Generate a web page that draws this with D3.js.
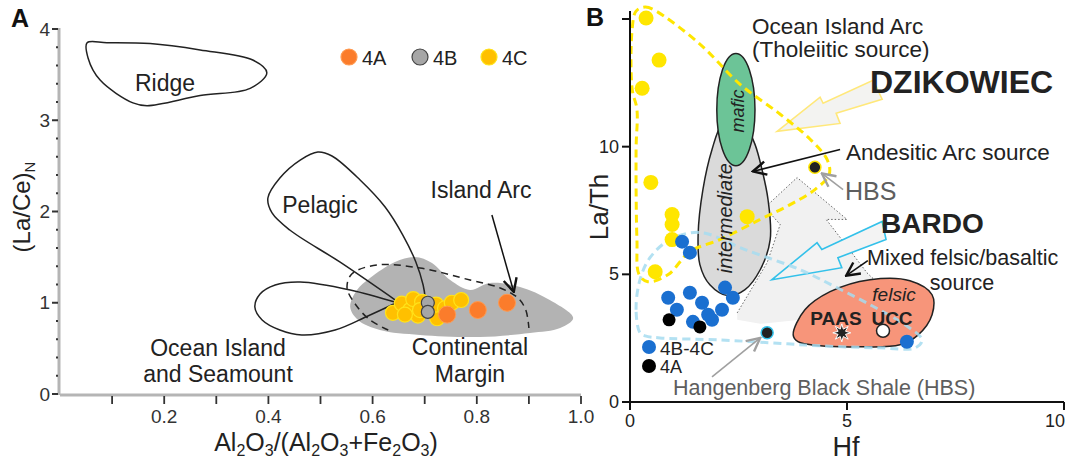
<!DOCTYPE html>
<html>
<head>
<meta charset="utf-8">
<script src="https://cdn.jsdelivr.net/npm/d3@7"></script>
<style>
body { margin: 0; background: #fff; }
svg text { font-family: "Liberation Sans", Arial, sans-serif; fill: #222; }
</style>
</head>
<body>
<svg id="chart" width="1066" height="461"></svg>
<script>
// ---- panel A data : Al2O3/(Al2O3+Fe2O3) vs (La/Ce)N
var a4A = [[0.743, 0.87], [0.802, 0.92], [0.858, 1.0]];
var a4B = [[0.706, 1.0], [0.706, 0.9]];
var a4C = [[0.639, 0.89], [0.656, 0.99], [0.672, 0.92], [0.678, 1.04], [0.687, 0.86],
           [0.695, 1.01], [0.691, 0.92], [0.724, 0.83], [0.722, 0.98], [0.739, 0.94],
           [0.752, 1.0], [0.770, 1.03], [0.662, 0.87]];

// field outlines (data units)
var ridge = [[0.052,3.85],[0.09,3.85],[0.173,3.84],[0.269,3.77],[0.37,3.66],[0.397,3.52],[0.365,3.35],
             [0.269,3.27],[0.167,3.16],[0.14,3.19],[0.077,3.44],[0.054,3.68]];
var pelagic = [[0.649,1.008],[0.537,1.447],[0.441,1.797],[0.407,1.984],[0.399,2.148],[0.422,2.367],
               [0.461,2.564],[0.495,2.652],[0.522,2.608],[0.576,2.345],[0.624,2.049],[0.658,1.742],
               [0.683,1.447],[0.697,1.195],[0.701,1.052]];
var oceanIsland = [[0.649,0.997],[0.557,1.14],[0.461,1.227],[0.413,1.195],[0.384,1.096],[0.374,0.953],
                   [0.388,0.811],[0.422,0.701],[0.464,0.647],[0.528,0.701],[0.591,0.855],[0.649,1.008]];
var islandArc = [[0.63,0.701],[0.595,0.811],[0.568,0.975],[0.551,1.162],[0.56,1.315],[0.608,1.414],
                 [0.691,1.381],[0.787,1.249],[0.845,1.162],[0.879,1.052],[0.894,0.921],[0.9,0.723]];
var contMargin = [[0.557,0.953],[0.57,1.14],[0.595,1.271],[0.643,1.447],[0.681,1.501],[0.714,1.436],
                  [0.749,1.249],[0.787,1.14],[0.825,1.216],[0.883,1.173],[0.94,1.03],[0.985,0.833],
                  [0.96,0.723],[0.902,0.668],[0.806,0.625],[0.691,0.647],[0.614,0.701],[0.572,0.811]];
var aXTicks = [0.1,0.2,0.3,0.4,0.5,0.6,0.7,0.8,0.9,1.0];
var aXLabels = [0.2,0.4,0.6,0.8,1.0];
var aYTicks = [0,1,2,3,4];

// ---- panel B data : Hf vs La/Th
var b4BC = [[1.20,6.28],[1.38,5.85],[0.88,4.08],[1.08,3.61],[1.38,4.28],[1.66,3.89],[1.45,3.14],
            [1.80,3.42],[1.89,3.22],[2.12,3.61],[2.19,4.48],[2.37,4.08],[6.38,2.36]];
var b4A = [[0.90,3.22],[1.61,2.94]];
var bYellow = [[0.37,15.04],[0.67,13.39],[0.28,12.29],[0.48,8.6],[0.97,7.34],[0.97,6.95],[0.97,6.36],
               [0.58,5.1],[2.70,7.26]];
var bHBS = [[4.26,9.19],[3.16,2.71]];
var paas = [4.88, 2.71];
var ucc = [5.83, 2.79];

var yellowField = [[0.14,15.31],[0.35,15.47],[0.6,15.31],[1.61,14.02],[2.53,12.45],[3.46,11.27],[4.15,10.29],
                   [4.54,9.5],[4.59,8.91],[4.26,8.32],[3.69,7.73],[3.0,7.15],[2.07,6.36],[1.38,5.89],
                   [0.88,4.99],[0.41,4.71],[0.21,4.99],[0.16,6.36],[0.14,9.89],[0.16,11.46],[0.05,12.25],[0.05,14.61]];
var blueField = [[0.23,2.71],[0.14,3.61],[0.23,4.79],[0.46,5.65],[0.92,6.36],[1.61,6.64],[2.65,5.97],
                 [3.92,5.18],[4.72,4.52],[5.53,3.81],[6.34,3.02],[6.73,2.43],[6.57,2.12],[5.76,2.12],
                 [4.38,2.2],[3.23,2.32],[2.07,2.43],[0.69,2.51],[0.35,2.59]];
var mixedEdge = [[2.47,3.49],[3.16,5.46],[3.46,6.95],[3.11,7.62],[3.85,8.79],[5.0,7.15],[4.52,7.15],
                 [4.88,6.36],[5.46,5.06],[5.92,4.32]];
var mixedLower = [[5.76,3.93],[4.84,3.53],[3.92,3.22],[3.0,3.06],[2.47,3.22]];
var intermediate = [[2.12,10.88],[1.89,9.89],[1.68,8.32],[1.57,6.56],[1.61,5.38],[1.84,4.59],[2.26,4.16],
                    [2.65,4.4],[3.0,5.18],[3.23,6.36],[3.18,7.93],[3.04,9.11],[2.88,10.09],[2.65,10.88],[2.42,11.15]];
var mafic = {cx: 2.44, cy: 11.45, rx: 0.44, ry: 2.2};
var felsic = [[3.76,2.63],[4.03,3.61],[4.61,4.32],[5.53,4.79],[6.45,4.75],[6.96,4.2],[6.96,3.42],
              [6.64,2.63],[6.22,2.24],[5.3,2.16],[4.38,2.2],[3.87,2.36]];
var dzArrow = [[3.39,10.6],[4.38,11.94],[4.45,11.7],[5.6,12.6],[5.81,11.86],[4.75,11.31],[4.84,10.91]];
var bdArrow = [[3.27,4.79],[4.31,6.24],[4.42,5.97],[5.81,7.07],[5.9,6.36],[4.79,5.65],[4.88,5.26]];
var bXTicks = [0,5,10];
var bYTicks = [0,5,10,15];

var svg = d3.select("#chart");

// markers
var defs = svg.append("defs");
function vHead(id, color) {
  defs.append("marker").attr("id", id)
    .attr("markerUnits", "userSpaceOnUse")
    .attr("markerWidth", 16).attr("markerHeight", 16)
    .attr("viewBox", "0 0 12 12").attr("refX", 11).attr("refY", 6)
    .attr("orient", "auto")
    .append("path").attr("d", "M1,1 L11,6 L1,11")
    .attr("fill", "none").attr("stroke", color).attr("stroke-width", 1.8);
}
vHead("headK", "#111");
vHead("headG", "#a0a0a0");

function label(g, x, y, t, size, opts) {
  opts = opts || {};
  return g.append("text").attr("x", x).attr("y", y)
    .attr("text-anchor", opts.anchor || "middle")
    .attr("dominant-baseline", "central")
    .attr("font-size", size)
    .attr("font-weight", opts.bold ? "bold" : null)
    .attr("font-style", opts.italic ? "italic" : null)
    .style("fill", opts.color || "#222")
    .text(t);
}

// ================= PANEL A =================
var xA = d3.scaleLinear().domain([0, 1]).range([60, 581]);
var yA = d3.scaleLinear().domain([0, 4]).range([394, 29]);
var gA = svg.append("g");

var lineA = d3.line().x(d => xA(d[0])).y(d => yA(d[1]));

gA.append("path").datum(contMargin)
  .attr("d", lineA.curve(d3.curveCatmullRomClosed))
  .attr("fill", "#b3b3b3").attr("stroke", "none");

gA.append("path").datum(ridge)
  .attr("d", lineA.curve(d3.curveCatmullRomClosed))
  .attr("fill", "none").attr("stroke", "#222").attr("stroke-width", 1.5);
gA.append("path").datum(pelagic)
  .attr("d", lineA.curve(d3.curveCatmullRom))
  .attr("fill", "none").attr("stroke", "#222").attr("stroke-width", 1.5);
gA.append("path").datum(oceanIsland)
  .attr("d", lineA.curve(d3.curveCatmullRom))
  .attr("fill", "none").attr("stroke", "#222").attr("stroke-width", 1.5);
gA.append("path").datum(islandArc)
  .attr("d", lineA.curve(d3.curveCatmullRom))
  .attr("fill", "none").attr("stroke", "#222").attr("stroke-width", 1.5)
  .attr("stroke-dasharray", "7,5");

// Island Arc arrow
gA.append("line")
  .attr("x1", xA(0.829)).attr("y1", yA(1.962))
  .attr("x2", xA(0.871)).attr("y2", yA(1.118))
  .attr("stroke", "#111").attr("stroke-width", 1.5)
  .attr("marker-end", "url(#headK)");

// points
gA.selectAll(".c4C").data(a4C).enter().append("circle")
  .attr("cx", d => xA(d[0])).attr("cy", d => yA(d[1])).attr("r", 7.5)
  .attr("fill", "#ffc000").attr("stroke", "#ffe31a").attr("stroke-width", 1.2);
gA.selectAll(".c4A").data(a4A).enter().append("circle")
  .attr("cx", d => xA(d[0])).attr("cy", d => yA(d[1])).attr("r", 8.5)
  .attr("fill", "#fb7c2b").attr("stroke", "#ff9a50").attr("stroke-width", 1);
gA.selectAll(".c4B").data(a4B).enter().append("circle")
  .attr("cx", d => xA(d[0])).attr("cy", d => yA(d[1])).attr("r", 6.5)
  .attr("fill", "#a6a6a6").attr("stroke", "#444").attr("stroke-width", 1.2);

// labels
label(gA, 165, 83, "Ridge", 23);
label(gA, 320, 205, "Pelagic", 23);
label(gA, 481, 190, "Island Arc", 23);
label(gA, 218, 348, "Ocean Island", 23);
label(gA, 218, 374, "and Seamount", 23);
label(gA, 470, 347, "Continental", 23);
label(gA, 470, 374, "Margin", 23);

// legend A
var legA = [["4A", "#fb7c2b", "#ff9a50", 349], ["4B", "#a6a6a6", "#444", 420], ["4C", "#ffc000", "#ffe31a", 489]];
legA.forEach(function (l) {
  gA.append("circle").attr("cx", l[3]).attr("cy", 57).attr("r", 8)
    .attr("fill", l[1]).attr("stroke", l[2]).attr("stroke-width", 1.2);
  label(gA, l[3] + 13, 58, l[0], 20, {anchor: "start"});
});

// axes A
gA.append("line").attr("x1", xA(0)).attr("x2", xA(1)).attr("y1", 395).attr("y2", 395)
  .attr("stroke", "#b5b5b5").attr("stroke-width", 3);
gA.append("line").attr("x1", 59).attr("x2", 59).attr("y1", yA(0) + 1).attr("y2", yA(4) - 1)
  .attr("stroke", "#b5b5b5").attr("stroke-width", 3);
gA.selectAll(".xt").data(aXTicks).enter().append("line")
  .attr("x1", d => xA(d)).attr("x2", d => xA(d)).attr("y1", 396).attr("y2", 404)
  .attr("stroke", "#333").attr("stroke-width", 1.8);
gA.selectAll(".xl").data(aXLabels).enter().append("text")
  .attr("x", d => xA(d)).attr("y", 416).attr("text-anchor", "middle")
  .attr("dominant-baseline", "central").attr("font-size", 19).style("fill", "#333")
  .text(d3.format(".1f"));
gA.selectAll(".yt").data(aYTicks).enter().append("line")
  .attr("x1", 52).attr("x2", 58).attr("y1", d => yA(d)).attr("y2", d => yA(d))
  .attr("stroke", "#333").attr("stroke-width", 2);
gA.selectAll(".ym").data(d3.range(0.2, 4, 0.2).filter(v => Math.abs(v - Math.round(v)) > 0.05)).enter().append("line")
  .attr("x1", 56).attr("x2", 58).attr("y1", d => yA(d)).attr("y2", d => yA(d))
  .attr("stroke", "#333").attr("stroke-width", 2);
gA.selectAll(".yl").data(aYTicks).enter().append("text")
  .attr("x", 50).attr("y", d => yA(d)).attr("text-anchor", "end")
  .attr("dominant-baseline", "central").attr("font-size", 19).style("fill", "#333")
  .text(d => d);

// axis titles A
var ytA = gA.append("text").attr("transform", "translate(30,207) rotate(-90)")
  .attr("text-anchor", "middle").attr("font-size", 24);
ytA.append("tspan").text("(La/Ce)");
ytA.append("tspan").attr("font-size", 15).attr("dy", 5).text("N");
var xtA = gA.append("text").attr("x", 326).attr("y", 451).attr("text-anchor", "middle").attr("font-size", 25);
[["Al", 0], ["2", 1], ["O", 0], ["3", 1], ["/(Al", 0], ["2", 1], ["O", 0], ["3", 1], ["+Fe", 0], ["2", 1], ["O", 0], ["3", 1], [")", 0]]
  .forEach(function (p, i, arr) {
    var prevSub = i > 0 && arr[i - 1][1];
    xtA.append("tspan").attr("font-size", p[1] ? 16 : 25)
      .attr("dy", p[1] ? 5 : (prevSub ? -5 : 0)).text(p[0]);
  });
label(gA, 20, 18, "A", 25, {bold: true, color: "#111"});

// ================= PANEL B =================
var xB = d3.scaleLinear().domain([0, 10]).range([630, 1064]);
var yB = d3.scaleLinear().domain([0, 15]).range([402, 19]);
var gB = svg.append("g");
var lineB = d3.line().x(d => xB(d[0])).y(d => yB(d[1]));

// mixed felsic/basaltic light area
gB.append("path").datum(mixedEdge.concat(mixedLower))
  .attr("d", lineB.curve(d3.curveLinearClosed))
  .attr("fill", "#f1f1f1").attr("stroke", "none");
gB.append("path").datum(mixedEdge)
  .attr("d", lineB.curve(d3.curveLinear))
  .attr("fill", "none").attr("stroke", "#555").attr("stroke-width", 0.9)
  .attr("stroke-dasharray", "1.5,2");

// intermediate
gB.append("path").datum(intermediate)
  .attr("d", lineB.curve(d3.curveCatmullRomClosed))
  .attr("fill", "#dadada").attr("stroke", "#222").attr("stroke-width", 1.5);
// mafic
gB.append("ellipse")
  .attr("cx", xB(mafic.cx)).attr("cy", yB(mafic.cy))
  .attr("rx", xB(mafic.cx + mafic.rx) - xB(mafic.cx))
  .attr("ry", yB(mafic.cy) - yB(mafic.cy + mafic.ry))
  .attr("fill", "#6cc497").attr("stroke", "#222").attr("stroke-width", 1.5);
// felsic
gB.append("path").datum(felsic)
  .attr("d", lineB.curve(d3.curveCatmullRomClosed))
  .attr("fill", "#f7957a").attr("stroke", "#222").attr("stroke-width", 1.5);

// big arrows
gB.append("path").datum(dzArrow)
  .attr("d", lineB.curve(d3.curveLinearClosed))
  .attr("fill", "#f3f3f1").attr("stroke", "#ffe87a").attr("stroke-width", 1.6);
gB.append("path").datum(bdArrow)
  .attr("d", lineB.curve(d3.curveLinearClosed))
  .attr("fill", "#f3f3f3").attr("stroke", "#33c1ea").attr("stroke-width", 1.6);

// dashed fields
gB.append("path").datum(blueField)
  .attr("d", lineB.curve(d3.curveCatmullRomClosed))
  .attr("fill", "none").attr("stroke", "#a6dcf0").attr("stroke-width", 3)
  .attr("stroke-opacity", 0.85).attr("stroke-dasharray", "8,5");
gB.append("path").datum(yellowField)
  .attr("d", lineB.curve(d3.curveCatmullRomClosed))
  .attr("fill", "none").attr("stroke", "#ffe600").attr("stroke-width", 3)
  .attr("stroke-dasharray", "8,5");

// annotation arrows
function arrowB(p1, p2, color, head) {
  gB.append("line")
    .attr("x1", xB(p1[0])).attr("y1", yB(p1[1]))
    .attr("x2", xB(p2[0])).attr("y2", yB(p2[1]))
    .attr("stroke", color).attr("stroke-width", 1.6)
    .attr("marker-end", "url(#" + head + ")");
}
arrowB([4.84, 9.89], [2.83, 9.03], "#111", "headK");
arrowB([5.48, 5.54], [4.98, 4.95], "#111", "headK");
arrowB([4.91, 8.32], [4.42, 8.95], "#a0a0a0", "headG");
arrowB([1.89, 0.98], [3.0, 2.51], "#a0a0a0", "headG");

// points
gB.selectAll(".by").data(bYellow).enter().append("circle")
  .attr("cx", d => xB(d[0])).attr("cy", d => yB(d[1])).attr("r", 7.5)
  .attr("fill", "#ffe600");
gB.selectAll(".bb").data(b4BC).enter().append("circle")
  .attr("cx", d => xB(d[0])).attr("cy", d => yB(d[1])).attr("r", 7)
  .attr("fill", "#1a6fd0");
gB.selectAll(".bk").data(b4A).enter().append("circle")
  .attr("cx", d => xB(d[0])).attr("cy", d => yB(d[1])).attr("r", 6.5)
  .attr("fill", "#000");
gB.selectAll(".bh").data(bHBS).enter().append("circle")
  .attr("cx", d => xB(d[0])).attr("cy", d => yB(d[1])).attr("r", 6)
  .attr("fill", "#222").attr("stroke", (d, i) => i === 0 ? "#ffe600" : "#33c1ea").attr("stroke-width", 1.5);
gB.append("circle").attr("cx", xB(ucc[0])).attr("cy", yB(ucc[1])).attr("r", 6.5)
  .attr("fill", "#fff").attr("stroke", "#222").attr("stroke-width", 1.5);
var starPts = d3.range(16).map(i => [i * Math.PI / 8, i % 2 ? 4 : 9]);
gB.append("path")
  .attr("transform", "translate(" + xB(paas[0]) + "," + yB(paas[1]) + ")")
  .attr("d", d3.lineRadial().curve(d3.curveLinearClosed)(starPts))
  .attr("fill", "#222").attr("stroke", "#fff").attr("stroke-width", 1);

// legend B
gB.append("circle").attr("cx", 649).attr("cy", 347).attr("r", 7).attr("fill", "#1a6fd0");
label(gB, 660, 348, "4B-4C", 19, {anchor: "start"});
gB.append("circle").attr("cx", 649).attr("cy", 366).attr("r", 7).attr("fill", "#000");
label(gB, 660, 367, "4A", 18, {anchor: "start"});

// text B
label(gB, 752, 26, "Ocean Island Arc", 22.5, {anchor: "start"});
label(gB, 752, 49, "(Tholeiitic source)", 22.5, {anchor: "start"});
label(gB, 870, 82, "DZIKOWIEC", 32, {anchor: "start", bold: true, color: "#222"});
label(gB, 846, 152, "Andesitic Arc source", 22.5, {anchor: "start"});
label(gB, 845, 191, "HBS", 25, {anchor: "start", color: "#5e5e5e"});
label(gB, 881, 223, "BARDO", 28, {anchor: "start", bold: true, color: "#222"});
label(gB, 867, 258, "Mixed felsic/basaltic", 21.5, {anchor: "start"});
label(gB, 962, 283, "source", 21.5);
label(gB, 894, 294, "felsic", 19, {italic: true});
label(gB, 836, 318, "PAAS", 19, {bold: true});
label(gB, 892, 318, "UCC", 19, {bold: true});
label(gB, 673, 388, "Hangenberg Black Shale (HBS)", 21.5, {anchor: "start", color: "#5e5e5e"});
label(gB, 0, 0, "mafic", 18, {italic: true})
  .attr("transform", "translate(" + xB(2.49) + "," + yB(11.4) + ") rotate(-90)");
label(gB, 0, 0, "intermediate", 20, {italic: true})
  .attr("transform", "translate(" + xB(2.19) + "," + yB(7.2) + ") rotate(-90)");

// axes B
gB.append("line").attr("x1", xB(0)).attr("x2", xB(10)).attr("y1", yB(0)).attr("y2", yB(0))
  .attr("stroke", "#111").attr("stroke-width", 2);
gB.append("line").attr("x1", xB(0)).attr("x2", xB(0)).attr("y1", yB(0) + 1).attr("y2", yB(15) - 8)
  .attr("stroke", "#111").attr("stroke-width", 2);
gB.selectAll(".bxt").data(bXTicks).enter().append("line")
  .attr("x1", d => xB(d)).attr("x2", d => xB(d)).attr("y1", yB(0)).attr("y2", yB(0) + 8)
  .attr("stroke", "#111").attr("stroke-width", 2);
gB.selectAll(".bxl").data(bXTicks).enter().append("text")
  .attr("x", d => d === 10 ? 1065 : xB(d)).attr("y", 421)
  .attr("text-anchor", d => d === 10 ? "end" : "middle")
  .attr("dominant-baseline", "central").attr("font-size", 18).style("fill", "#222")
  .text(d => d);
gB.selectAll(".byt").data(bYTicks).enter().append("line")
  .attr("x1", xB(0) - 8).attr("x2", xB(0)).attr("y1", d => yB(d)).attr("y2", d => yB(d))
  .attr("stroke", "#111").attr("stroke-width", 2);
gB.selectAll(".byl").data(bYTicks.filter(d => d < 15)).enter().append("text")
  .attr("x", 619).attr("y", d => yB(d)).attr("text-anchor", "end")
  .attr("dominant-baseline", "central").attr("font-size", 18).style("fill", "#222")
  .text(d => d);
gB.append("text").attr("transform", "translate(608,207) rotate(-90)")
  .attr("text-anchor", "middle").attr("font-size", 26).text("La/Th");
label(gB, 846, 447, "Hf", 27);
label(gB, 595, 17, "B", 25, {bold: true, color: "#111"});
</script>
</body>
</html>
